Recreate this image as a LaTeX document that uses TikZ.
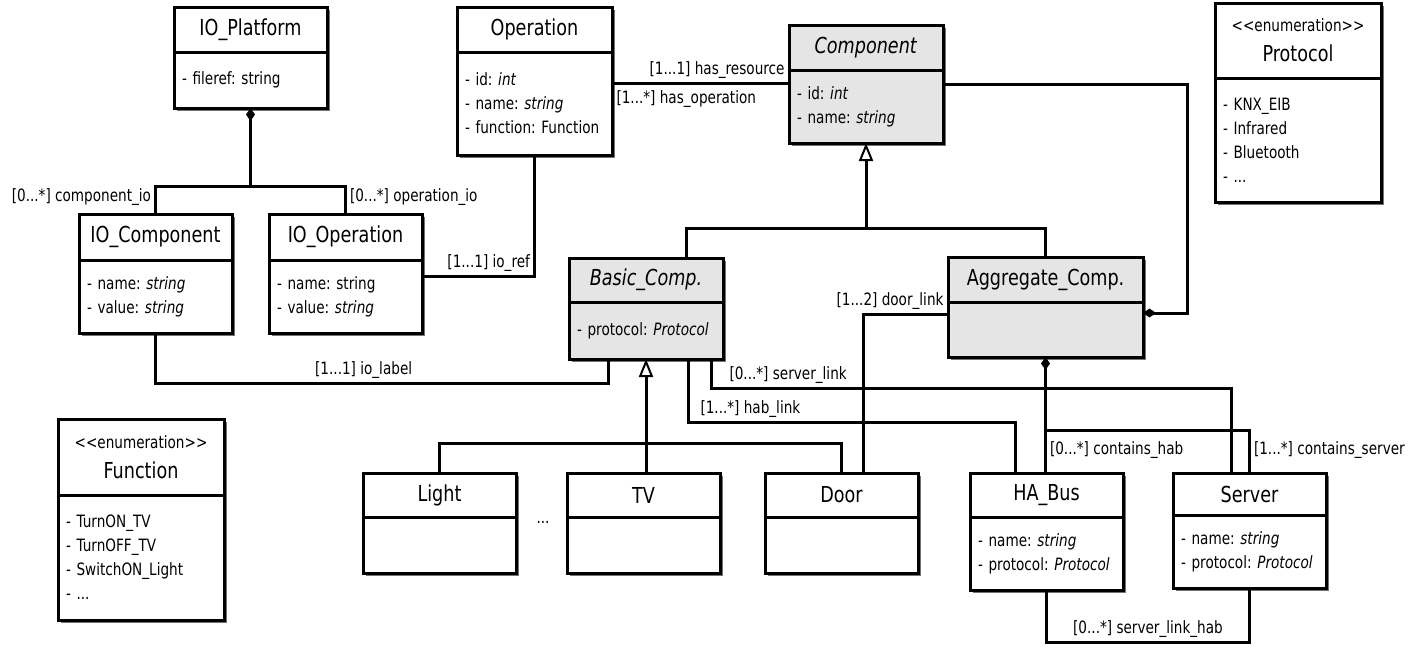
\documentclass[tikz,border=0pt]{standalone}
\usepackage{fontspec}
\setmainfont{DejaVu Sans}[FakeStretch=0.8]
\usepackage{tikz}
\usetikzlibrary{arrows.meta, positioning, shadows}
\frenchspacing

\begin{document}
\begin{tikzpicture}[x=1pt,y=-1pt,line width=3pt,
    box/.style={draw,fill=white,outer sep=0pt,inner xsep=8pt,inner ysep=3pt,
        drop shadow={shadow xshift=3pt,shadow yshift=-3pt,fill=black!55,opacity=1}},
    head/.style={box,anchor=north west,align=center,font=\fontsize{22}{26}\selectfont},
    body/.style={box,align=left,font=\fontsize{17}{24}\selectfont},
    shaded/.style={fill=black!10},
    lbl/.style={font=\fontsize{17}{20}\selectfont,inner sep=3pt},
    inh/.style={-{Triangle[open,length=18pt,width=14pt,line width=2pt]}},
    own/.style={{Diamond[length=13pt,width=9pt]}-}]

    \useasboundingbox (0,0) rectangle (1410,649);

    % classes
    \node[head] (plat) at (174,7) [minimum width=153pt,minimum height=45pt] {IO\_Platform};
    \node[body,below=0pt of plat,text width=137pt,minimum height=56pt] (plat_b) {- fileref: string};

    \node[head] (oper) at (457,7) [minimum width=155pt,minimum height=45pt] {Operation};
    \node[body,below=0pt of oper,text width=139pt,minimum height=103pt] (oper_b)
        {- id: \textit{int}\\- name: \textit{string}\\- function: Function};

    \node[head,shaded] (comp) at (789,25) [minimum width=154pt,minimum height=45pt] {\textit{Component}};
    \node[body,shaded,below=0pt of comp,text width=138pt,minimum height=73pt] (comp_b)
        {- id: \textit{int}\\- name: \textit{string}};

    \node[head] (proto) at (1215,3) [minimum width=166pt,minimum height=75pt]
        {{\fontsize{17}{20}\selectfont <{}<enumeration>{}>}\\[4pt]Protocol};
    \node[body,below=0pt of proto,text width=150pt,minimum height=124pt] (proto_b)
        {- KNX\_EIB\\- Infrared\\- Bluetooth\\- ...};

    \node[head] (iocomp) at (79,214) [minimum width=153pt,minimum height=46pt] {IO\_Component};
    \node[body,below=0pt of iocomp,text width=137pt,minimum height=73pt] (iocomp_b)
        {- name: \textit{string}\\- value: \textit{string}};

    \node[head] (ioop) at (269,214) [minimum width=153pt,minimum height=46pt] {IO\_Operation};
    \node[body,below=0pt of ioop,text width=137pt,minimum height=73pt] (ioop_b)
        {- name: string\\- value: \textit{string}};

    \node[head,shaded] (basic) at (569,258) [minimum width=154pt,minimum height=44pt] {\textit{Basic\_Comp.}};
    \node[body,shaded,below=0pt of basic,text width=138pt,minimum height=57pt] (basic_b)
        {- protocol: \textit{Protocol}};

    \node[head,shaded] (aggr) at (948,257) [minimum width=195pt,minimum height=45pt] {Aggregate\_Comp.};
    \node[body,shaded,below=0pt of aggr,text width=179pt,minimum height=55pt] (aggr_b) {};

    \node[head] (func) at (58,419) [minimum width=166pt,minimum height=76pt]
        {{\fontsize{17}{20}\selectfont <{}<enumeration>{}>}\\[4pt]Function};
    \node[body,below=0pt of func,text width=150pt,minimum height=125pt] (func_b)
        {- TurnON\_TV\\- TurnOFF\_TV\\- SwitchON\_Light\\- ...};

    \node[head] (light) at (363,473) [minimum width=153pt,minimum height=44pt] {Light};
    \node[body,below=0pt of light,text width=137pt,minimum height=56pt] (light_b) {};

    \node[head] (tv) at (567,473) [minimum width=153pt,minimum height=44pt] {TV};
    \node[body,below=0pt of tv,text width=137pt,minimum height=56pt] (tv_b) {};

    \node[head] (door) at (765,473) [minimum width=153pt,minimum height=44pt] {Door};
    \node[body,below=0pt of door,text width=137pt,minimum height=56pt] (door_b) {};

    \node[head] (habus) at (970,473) [minimum width=153pt,minimum height=44pt] {HA\_Bus};
    \node[body,below=0pt of habus,text width=137pt,minimum height=73pt] (habus_b)
        {- name: \textit{string}\\- protocol: \textit{Protocol}};

    \node[head] (server) at (1173,473) [minimum width=153pt,minimum height=42pt] {Server};
    \node[body,below=0pt of server,text width=137pt,minimum height=73pt] (server_b)
        {- name: \textit{string}\\- protocol: \textit{Protocol}};

    \node[font=\fontsize{17}{20}\selectfont] (more) at (543,522) {...};

    % IO_Platform parts
    \draw[own] (plat_b.south) -- ++(0,78) coordinate (pj);
    \draw (pj) -| node[lbl,pos=0.7,left] {[0...*] component\_io} (iocomp.north);
    \draw (pj) -| node[lbl,pos=0.7,right] {[0...*] operation\_io} (ioop.north);

    % Operation -- Component
    \coordinate (hr) at ([yshift=-13pt]comp_b.north west);
    \draw (hr) -- node[lbl,pos=0,above left] {[1...1] has\_resource}
        node[lbl,pos=1,below right,yshift=-3pt] {[1...*] has\_operation} (oper_b.east |- hr);
    \draw ([yshift=-16pt]ioop_b.north east) -| node[lbl,pos=0.5,above left] {[1...1] io\_ref} (oper_b.south);

    % generalisation of Component
    \coordinate (cj) at ([yshift=-85pt]comp_b.south);
    \draw[inh] (cj) -- (comp_b.south);
    \draw (cj) -| ([xshift=40pt]basic.north);
    \draw (cj) -| (aggr.north);
    \draw[own] ([yshift=-11pt]aggr_b.north east) -- ++(44,0) |- ([yshift=-14pt]comp_b.north east);

    % generalisation of Basic_Comp
    \coordinate (bj) at ([yshift=-84pt]basic_b.south);
    \draw[inh] (bj) -- (basic_b.south);
    \draw (light.north) |- (bj) -| (door.north);
    \draw (bj) -- (bj |- tv.north);

    % links
    \draw (iocomp_b.south) -- ++(0,50) -| node[lbl,pos=0.23,above] {[1...1] io\_label} ([xshift=-38pt]basic_b.south);
    \draw ([yshift=-12pt]aggr_b.north west) -| node[lbl,pos=0,above left] {[1...2] door\_link} ([xshift=22pt]door.north);
    \draw ([xshift=42pt]basic_b.south) -- ++(0,63) -| node[lbl,pos=0,above right,xshift=8pt] {[1...*] hab\_link} ([xshift=-31pt]habus.north);
    \draw ([xshift=65pt]basic_b.south) -- ++(0,29) -| node[lbl,pos=0,above right,xshift=14pt] {[0...*] server\_link} ([xshift=-18pt]server.north);

    % Aggregate_Comp parts
    \draw[own] (aggr_b.south) -- node[lbl,pos=0.8,right] {[0...*] contains\_hab} (aggr_b.south |- habus.north);
    \draw ([yshift=-73pt]aggr_b.south) -| node[lbl,pos=0.73,right] {[1...*] contains\_server} (server.north);
    \draw (habus_b.south) -- ++(0,52) -| node[lbl,pos=0.25,above] {[0...*] server\_link\_hab} (server_b.south);
\end{tikzpicture}
\end{document}
